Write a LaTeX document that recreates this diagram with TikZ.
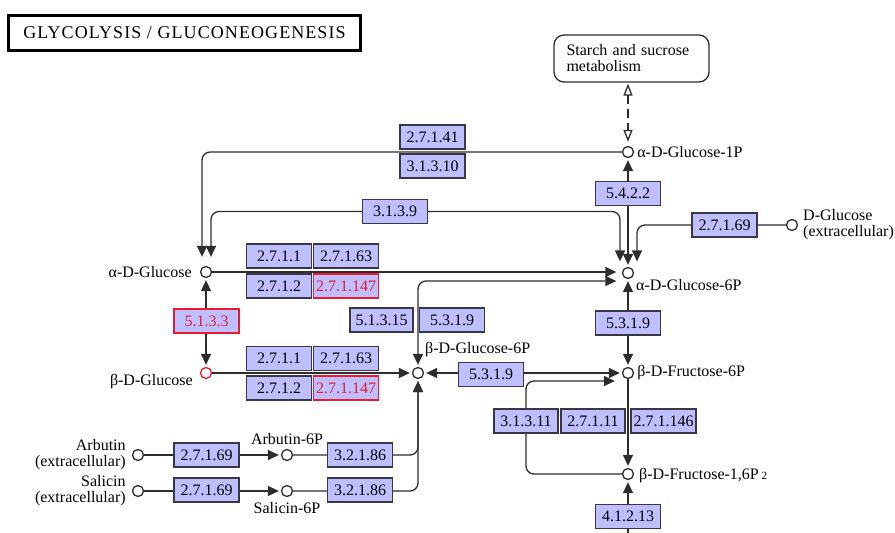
\documentclass[tikz,border=0pt]{standalone}
\usepackage{fontspec}
\setmainfont{Liberation Serif}
\newfontfamily\titlefont[LetterSpace=6]{Liberation Serif}
\usetikzlibrary{arrows.meta,positioning}
\pgfdeclarelayer{back}
\pgfsetlayers{back,main}
\definecolor{ecfill}{RGB}{191,191,255}
\definecolor{ecline}{RGB}{55,55,70}
\definecolor{ecred}{RGB}{235,25,45}
\definecolor{wire}{RGB}{45,45,45}

\begin{document}
\begin{tikzpicture}[x=1pt,y=-1pt,>={Triangle[length=11pt,width=10pt,sep=2pt]},
  every node/.style={font=\fontsize{16}{16}\selectfont},
  cpd/.style={circle,draw=wire,fill=white,line width=1.3pt,minimum size=11pt,inner sep=0pt},
  ec/.style={draw=ecline,fill=ecfill,line width=1.3pt,minimum width=65pt,minimum height=24pt,inner sep=0pt},
  ecred/.style={ec,draw=ecred,text=ecred},
  lbl/.style={inner sep=0pt},
  link/.style={draw=wire,line width=1.3pt,rounded corners=8pt}]
  \useasboundingbox (0,0) rectangle (895,533);

  \node[draw,line width=3pt,minimum width=352pt,minimum height=35pt,inner sep=0pt] (title) at (184.5,33)
    {\titlefont\fontsize{18}{18}\selectfont GLYCOLYSIS / GLUCONEOGENESIS};
  \node[draw=wire,line width=1.3pt,rounded corners=10pt,align=left,text width=130pt,
    inner xsep=12.5pt,minimum height=47pt] (starch) at (631.5,58.5) {Starch and sucrose\\metabolism};

  % compounds
  \node[cpd] (ag1p)  at (628,152) {};
  \node[cpd] (ag6p)  at (628,273) {};
  \node[cpd] (dglc)  at (792,225) {};
  \node[cpd] (aglc)  at (206,272) {};
  \node[cpd,draw=ecred] (bglc) at (206,373) {};
  \node[cpd] (bg6p)  at (418,373) {};
  \node[cpd] (bf6p)  at (628,373) {};
  \node[cpd] (fbp)   at (628,474) {};
  \node[cpd] (arb)   at (138,455) {};
  \node[cpd] (arb6p) at (287,455) {};
  \node[cpd] (sal)   at (138,491) {};
  \node[cpd] (sal6p) at (287,491) {};

  \node[lbl,right=3pt of ag1p] (ag1pl) {α-D-Glucose-1P};
  \node[lbl,anchor=west] (ag6pl) at (636,285) {α-D-Glucose-6P};
  \node[lbl,anchor=west,align=left] (dglcl) at (803,225) {D-Glucose\\(extracellular)};
  \node[lbl,left=8pt of aglc] (aglcl) {α-D-Glucose};
  \node[lbl,anchor=east] (bglcl) at (193,382) {β-D-Glucose};
  \node[lbl,anchor=west] (bg6pl) at (425,350) {β-D-Glucose-6P};
  \node[lbl,right=3pt of bf6p] (bf6pl) {β-D-Fructose-6P};
  \node[lbl,anchor=west] (fbpl) at (639,476) {β-D-Fructose-1,6P\,{\fontsize{11}{11}\selectfont 2}};
  \node[lbl,align=right,left=6pt of arb] (arbl) {Arbutin\\(extracellular)};
  \node[lbl,align=right,left=6pt of sal] (sall) {Salicin\\(extracellular)};
  \node[lbl,above=4pt of arb6p] (arb6pl) {Arbutin-6P};
  \node[lbl,below=5pt of sal6p] (sal6pl) {Salicin-6P};

  % enzymes
  \node[ec] (e27141) at (432.5,137) {2.7.1.41};
  \node[ec] (e31310) at (432.5,166) {3.1.3.10};
  \node[ec] (e3139)  at (395,211.5) {3.1.3.9};
  \node[ec] (e5422)  at (628,193.5) {5.4.2.2};
  \node[ec] (e27169a) at (724.5,225) {2.7.1.69};
  \node[ec] (e2711a)   at (279,256) {2.7.1.1};
  \node[ec] (e27163a)  at (346,256) {2.7.1.63};
  \node[ec] (e2712a)   at (279,286) {2.7.1.2};
  \node[ecred] (e271147a) at (346,286) {2.7.1.147};
  \node[ecred] (e5133) at (206.5,321) {5.1.3.3};
  \node[ec,minimum width=63pt] (e51315) at (381.5,320) {5.1.3.15};
  \node[ec] (e5319a) at (452,320) {5.3.1.9};
  \node[ec] (e5319b) at (628,323) {5.3.1.9};
  \node[ec] (e2711b)   at (279,358.5) {2.7.1.1};
  \node[ec] (e27163b)  at (346,358.5) {2.7.1.63};
  \node[ec] (e2712b)   at (279,388) {2.7.1.2};
  \node[ecred] (e271147b) at (346,388) {2.7.1.147};
  \node[ec] (e5319c) at (491,374.5) {5.3.1.9};
  \node[ec,minimum width=64pt] (e31311) at (526,421) {3.1.3.11};
  \node[ec,minimum width=64pt] (e27111) at (593,421) {2.7.1.11};
  \node[ec] (e271146) at (663.5,421) {2.7.1.146};
  \node[ec] (e41213) at (628,516.5) {4.1.2.13};
  \node[ec] (e27169b) at (206.5,455) {2.7.1.69};
  \node[ec] (e32186a) at (360,455) {3.2.1.86};
  \node[ec] (e27169c) at (206.5,490) {2.7.1.69};
  \node[ec] (e32186b) at (360,490) {3.2.1.86};
  \coordinate (aldin) at (628,545);

  \begin{pgfonlayer}{back}
    \draw[link,->] (ag1p) -| ([xshift=-4pt,yshift=7pt]aglc.north);
    \draw[link,<->] ([xshift=-8pt,yshift=3.5pt]ag6p.north) |- (e3139.center) -| ([xshift=5pt,yshift=7pt]aglc.north);
    \draw[link,<->] (ag1p) -- (ag6p);
    \draw[link,->] (dglc) -| ([xshift=9pt,yshift=3.5pt]ag6p.north);
    \draw[link,->] (aglc) -- ([xshift=-3.5pt,yshift=1pt]ag6p.west);
    \draw[link,<->] (bg6p.north) |- ([xshift=-3.5pt,yshift=-8pt]ag6p.west);
    \draw[link,<->] (aglc) -- (bglc);
    \draw[link,->] (bglc) -- (bg6p);
    \draw[link,<->] (bg6p) -- (bf6p);
    \draw[link,<->] (ag6p) -- (bf6p);
    \draw[link,->] (bf6p) -- (fbp);
    \draw[link,->] (fbp) -| (e31311.center) |- ([xshift=-5pt,yshift=-8pt]bf6p.west);
    \draw[link,->] (aldin) -- (fbp);
    \draw[link,->] (arb) -- (arb6p);
    \draw[link,->] (sal) -- (sal6p);
    \draw[link,->] (arb6p) -| (bg6p.south);
    \draw[link,->] (sal6p) -| (bg6p.south);
    \draw[link,dashed,dash pattern=on 9pt off 5pt,
      {Triangle[open,length=12pt,width=9pt,sep=1pt]}-{Triangle[open,length=12pt,width=9pt,sep=4pt]}]
      (starch.south -| ag1p) -- (ag1p);
  \end{pgfonlayer}
\end{tikzpicture}
\end{document}
